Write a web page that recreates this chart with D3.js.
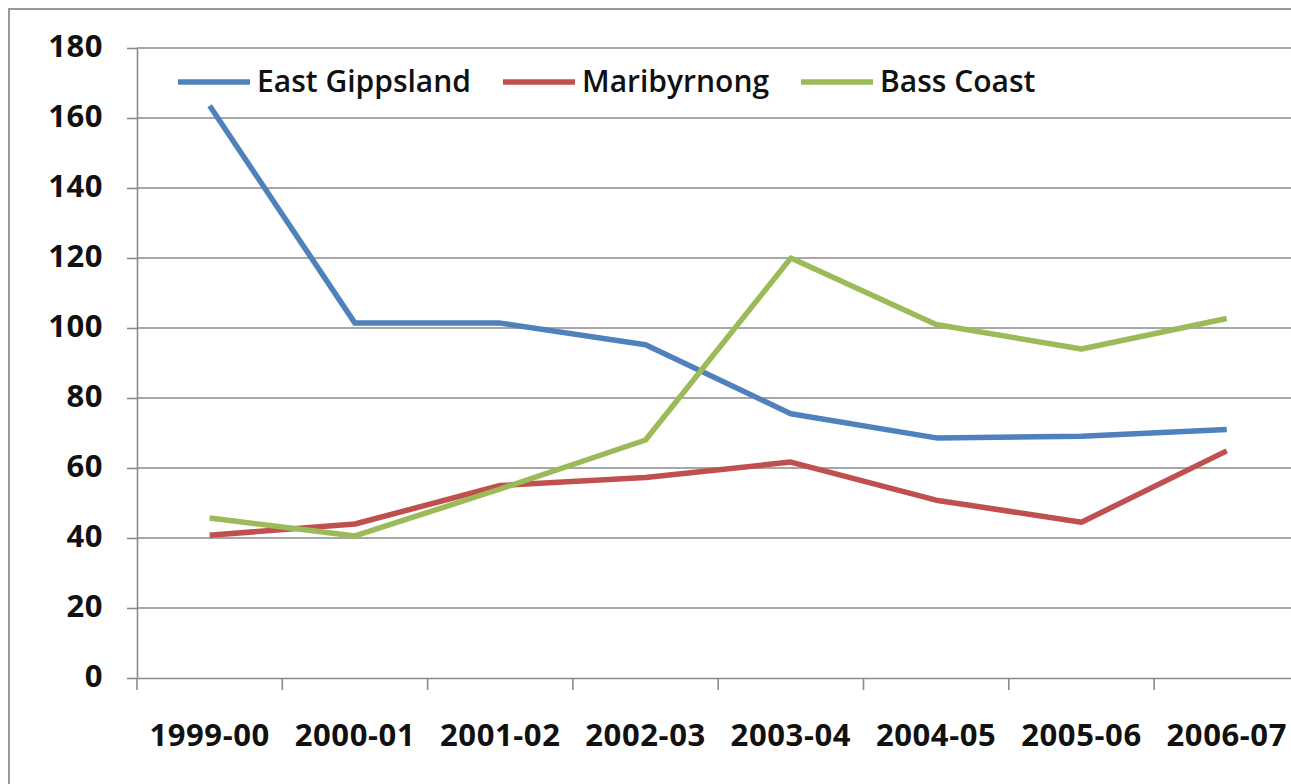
<!DOCTYPE html>
<html>
<head>
<meta charset="utf-8">
<script src="https://cdn.jsdelivr.net/npm/d3@7"></script>
<style>
  html, body { margin: 0; padding: 0; background: #fff; overflow: hidden; }
  svg { display: block; }
  text { font-family: "Open Sans", "Liberation Sans", sans-serif; font-weight: 600; fill: #111; }
</style>
</head>
<body>
<svg id="chart" width="1291" height="784"></svg>
<script>
// Financial years on the category axis
const years = ["1999-00", "2000-01", "2001-02", "2002-03", "2003-04", "2004-05", "2005-06", "2006-07"];

// Series values per year
const eastGippsland = [163.5, 101.4, 101.4, 95.2, 75.5, 68.6, 69.1, 71.0];
const maribyrnong   = [40.8, 44.0, 55.0, 57.3, 61.7, 50.8, 44.5, 64.9];
const bassCoast     = [45.7, 40.6, 54.0, 68.0, 120.0, 101.0, 94.0, 102.7];

const seriesNames  = ["East Gippsland", "Maribyrnong", "Bass Coast"];
const seriesColors = ["#4F81BD", "#C0504D", "#9BBB59"];
const seriesValues = [eastGippsland, maribyrnong, bassCoast];

// Value axis ticks
const yTicks = [0, 20, 40, 60, 80, 100, 120, 140, 160, 180];

const svg = d3.select("#chart");

// Outer chart frame (runs off the right and bottom edges)
svg.append("rect")
  .attr("x", 9).attr("y", 9)
  .attr("width", 1400).attr("height", 900)
  .attr("fill", "#fff")
  .attr("stroke", "#9a9a9a")
  .attr("stroke-width", 2);

const plot = { left: 137, top: 48, bottom: 678, bandWidth: 145.3 };
const plotRight = plot.left + plot.bandWidth * years.length;

const x = d3.scaleBand().domain(years).range([plot.left, plotRight]);
const y = d3.scaleLinear().domain([0, 180]).range([plot.bottom, plot.top]);

// Horizontal gridlines
svg.append("g")
  .selectAll("line")
  .data(yTicks.filter(d => d > 0))
  .join("line")
  .attr("x1", plot.left).attr("x2", plotRight)
  .attr("y1", d => y(d)).attr("y2", d => y(d))
  .attr("stroke", "#8a8a8a")
  .attr("stroke-width", 1.6);

// Value axis
const yAxis = svg.append("g")
  .attr("transform", `translate(${plot.left},0)`)
  .call(d3.axisLeft(y).tickValues(yTicks).tickSize(10).tickPadding(24).tickSizeOuter(0));
yAxis.select(".domain").attr("stroke", "#8a8a8a").attr("stroke-width", 1.6);
yAxis.selectAll(".tick line").attr("stroke", "#8a8a8a").attr("stroke-width", 1.6);
yAxis.selectAll(".tick text")
  .attr("font-size", 31)
  .attr("dy", "0.28em")
  .style("font-family", "'Open Sans', sans-serif")
  .style("font-weight", 700)
  .style("letter-spacing", "0.5px")
  .attr("fill", "#111");

// Category axis with ticks on band boundaries
const xAxis = svg.append("g")
  .attr("transform", `translate(0,${plot.bottom})`)
  .call(d3.axisBottom(x).tickSize(0).tickPadding(46).tickSizeOuter(0));
xAxis.select(".domain").attr("stroke", "#8a8a8a").attr("stroke-width", 1.6);
xAxis.selectAll(".tick text")
  .attr("font-size", 31)
  .style("font-family", "'Open Sans', sans-serif")
  .style("font-weight", 700)
  .style("letter-spacing", "0.6px")
  .attr("fill", "#111");
xAxis.selectAll("line.boundary")
  .data(years.map((d, i) => i))
  .join("line")
  .attr("class", "boundary")
  .attr("x1", i => plot.left + i * x.step())
  .attr("x2", i => plot.left + i * x.step())
  .attr("y1", 0).attr("y2", 12)
  .attr("stroke", "#8a8a8a")
  .attr("stroke-width", 1.6);

// Series lines
const line = d3.line()
  .x((d, i) => x(years[i]) + x.bandwidth() / 2)
  .y(d => y(d));

svg.append("g")
  .selectAll("path")
  .data(seriesValues)
  .join("path")
  .attr("d", line)
  .attr("fill", "none")
  .attr("stroke", (d, i) => seriesColors[i])
  .attr("stroke-width", 5.5)
  .attr("stroke-linejoin", "round");

// Legend
const legendItems = [
  { lineX: 178, textX: 257 },
  { lineX: 503, textX: 582 },
  { lineX: 801, textX: 880 }
];
const legend = svg.append("g");
legendItems.forEach((item, i) => {
  legend.append("line")
    .attr("x1", item.lineX).attr("x2", item.lineX + 72)
    .attr("y1", 82).attr("y2", 82)
    .attr("stroke", seriesColors[i])
    .attr("stroke-width", 5.5);
  legend.append("text")
    .attr("x", item.textX).attr("y", 92)
    .attr("font-size", 30)
    .text(seriesNames[i]);
});
</script>
</body>
</html>
